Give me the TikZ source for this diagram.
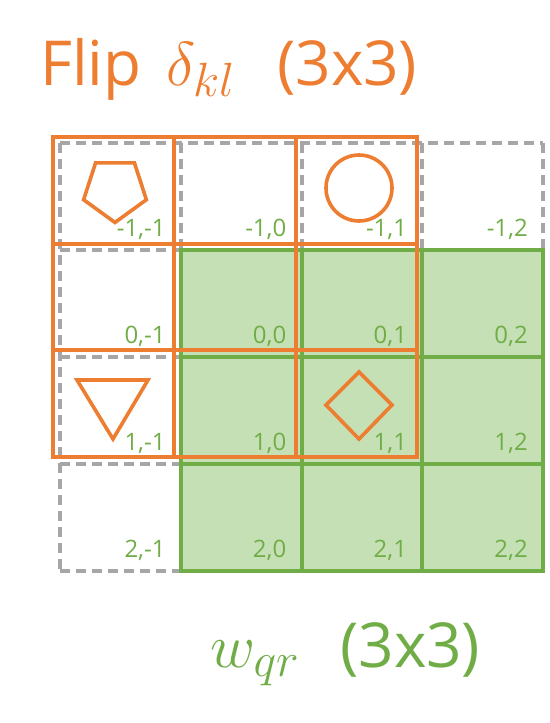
\RequirePackage{fix-cm}
\documentclass[tikz,border=0pt]{standalone}
\usepackage{fontspec}
\setmainfont{Open Sans}
\usetikzlibrary{calc}
\DeclareMathSizes{60}{62}{48}{40}
\definecolor{corange}{HTML}{ED7D31}
\definecolor{cgreen}{HTML}{70AD47}
\definecolor{cgfill}{HTML}{C5E0B4}
\definecolor{cgray}{HTML}{A6A6A6}
\tikzset{
  graydash/.style={draw=cgray, line width=4pt, dash pattern=on 10pt off 6pt},
  greencell/.style={draw=cgreen, fill=cgfill, line width=4pt},
  orangecell/.style={draw=corange, line width=4pt},
  oshape/.style={draw=corange, line width=3.6pt, line join=miter},
  idx/.style={text=cgreen, inner sep=0pt, anchor=base east, font=\fontsize{24}{26}\selectfont},
  bigtxt/.style={inner sep=0pt, anchor=base west, font=\fontsize{62}{66}\selectfont},
  bigmath/.style={inner sep=0pt, anchor=base west, font=\fontsize{60}{64}\selectfont},
}
\begin{document}
\begin{tikzpicture}[x=1pt, y=-1pt]
\useasboundingbox (0,0) rectangle (549,723);
\def\gx{60}\def\gy{143}\def\sx{120.75}\def\sy{107}
% gray dashed full grid
\foreach \i in {0,...,4} {
  \draw[graydash] ({\gx+\i*\sx},\gy) -- ({\gx+\i*\sx},{\gy+4*\sy});
  \draw[graydash] (\gx,{\gy+\i*\sy}) -- ({\gx+4*\sx},{\gy+\i*\sy});
}
% green cells
\foreach \r in {1,2,3} \foreach \c in {1,2,3} {
  \draw[greencell] ({\gx+\c*\sx},{\gy+\r*\sy}) rectangle ({\gx+(\c+1)*\sx},{\gy+(\r+1)*\sy});
}
% index labels
\foreach \r in {-1,0,1,2} \foreach \c in {-1,0,1,2} {
  \node[idx] (l\r\c) at ({\gx+(\c+2)*\sx-15},{\gy+(\r+2)*\sy-14}) {\r,\c};
}
% orange flipped kernel
\def\ox{53}\def\oy{137}\def\osx{121.3}\def\osy{106.7}
\foreach \r in {0,1,2} \foreach \c in {0,1,2} {
  \draw[orangecell] ({\ox+\c*\osx},{\oy+\r*\osy}) rectangle ({\ox+(\c+1)*\osx},{\oy+(\r+1)*\osy});
}
% shapes
\coordinate (pc) at (115,189.5);
\draw[oshape] ($(pc)+(90:33)$) -- ($(pc)+(18:33)$) -- ($(pc)+(-54:33)$) -- ($(pc)+(-126:33)$) -- ($(pc)+(162:33)$) -- cycle;
\draw[oshape] (359,188) circle (33);
\draw[oshape] (77,380) -- (148,380) -- (113,439) -- cycle;
\draw[oshape] (359,372) -- (392,405) -- (359,439) -- (326,405) -- cycle;
% titles
\node[bigtxt, text=corange] (flip) at (40,85) {Flip};
\node[bigmath, text=corange] (delta) at (166,85) {$\delta_{kl}$};
\node[bigtxt, text=corange] (tsize) at (277,85) {(3x3)};
\node[bigmath, text=cgreen] (w) at (210,667) {$w_{qr}$};
\node[bigtxt, text=cgreen] (bsize) at (340,667) {(3x3)};
\end{tikzpicture}
\end{document}
